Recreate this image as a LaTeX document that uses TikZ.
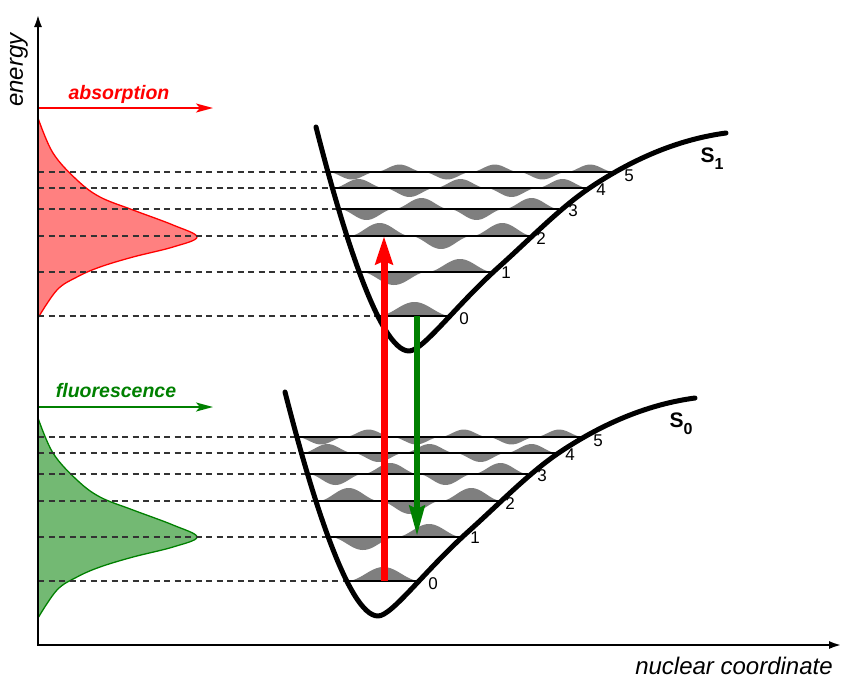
\documentclass[tikz,border=0pt]{standalone}
\usepackage{fontspec}
\setmainfont{Liberation Sans}
\usepackage{tikz}
\usetikzlibrary{arrows.meta}
\definecolor{absRed}{HTML}{FF0000}
\definecolor{absFill}{HTML}{FF8080}
\definecolor{fluoGreen}{HTML}{008000}
\definecolor{fluoFill}{HTML}{73B973}
\definecolor{waveGray}{HTML}{7F7F7F}
\definecolor{dashGray}{HTML}{333333}

\tikzset{
  well/.style={line width=5pt, line join=round, line cap=round},
  vlevel/.style={line width=2.2pt},
  levdash/.style={dashGray, line width=1.3pt, dash pattern=on 6pt off 4.5pt},
  axisline/.style={line width=2.6pt, line join=miter,
    {Latex[length=13pt,width=8pt]}-{Latex[length=13pt,width=8pt]}},
  bandarrow/.style={line width=2pt, -{Stealth[length=17pt,width=9pt,inset=4pt]}},
  translbl/.style={font=\fontsize{19.5}{22}\selectfont\bfseries\itshape},
  axislbl/.style={font=\fontsize{24}{28}\selectfont\itshape},
  vlbl/.style={font=\fontsize{17}{20}\selectfont},
  statelbl/.style={font=\fontsize{21}{24}\selectfont\bfseries}
}

\begin{document}
\begin{tikzpicture}[x=1pt, y=-1pt]
  \useasboundingbox (0,0) rectangle (842,678);
  \coordinate (origin) at (38,645);
  \coordinate (ytip) at (38,14);
  \coordinate (xtip) at (842,645);

  % band shapes
  \foreach \col/\fil/\dy in {absRed/absFill/-300, fluoGreen/fluoFill/0} {
    \begin{scope}[shift={(0,\dy)}]
      \filldraw[fill=\fil, draw=\col, line width=1.3pt] plot[smooth, tension=0.6]
        coordinates {(38,418) (53,453) (77,480) (100,497) (133,510) (173,525)
          (197,537) (173,547) (133,557) (100,567) (77,577) (57,590) (38,618)} -- cycle;
    \end{scope}
  }

  % the two wells, S0 and S1
  \foreach \s/\dx/\dy in {0/0/0, 1/31/-265} {
    \begin{scope}[shift={(\dx,\dy)}]
      \foreach \n/\xl/\xr/\y/\amp/\lx/\ly in {0/347/420/581/14/433/584,
          1/330/462/537/13/475/538, 2/318/502/501/13/510/504,
          3/308/528/474/11/542/476, 4/302/557/453/9/570/455,
          5/297/583/437/7.5/598/441} {
        \pgfmathsetmacro{\k}{(\n+1)*180}
        \coordinate (L\s-\n) at (\xl,\y);
        \coordinate (R\s-\n) at (\xr,\y);
        \draw[levdash] (origin |- L\s-\n) -- (L\s-\n);
        \fill[waveGray] plot[domain=0:1, samples=90, smooth]
          ({\xl+(\xr-\xl)*\x}, {\y-\amp*sin(\k*(1-\x))*abs(sin(\k*(1-\x)))}) -- cycle;
        \draw[vlevel] (L\s-\n) -- (R\s-\n);
        \node[vlbl] (v\s-\n) at (\lx,\ly) {\n};
      }
      \draw[well] (285,392) .. controls (310,490) and (348,616) .. (378,616)
        .. controls (392,616) and (425,570) .. (470,530)
        .. controls (500,503) and (530,472) .. (560,452)
        .. controls (605,422) and (650,404) .. (695,398);
      \node[statelbl] (S\s) at (681,424) {S\raisebox{-7pt}{\fontsize{16}{18}\selectfont\bfseries\s}};
    \end{scope}
  }

  % transitions
  \coordinate (absfrom) at (384,581);
  \coordinate (absto) at (384,236);
  \coordinate (emfrom) at (417,316);
  \coordinate (emto) at (417,536);
  \draw[absRed, line width=7pt, -{Stealth[length=28pt,width=17pt,inset=3pt]}] (absfrom) -- (absto);
  \draw[fluoGreen, line width=6pt, -{Stealth[length=30pt,width=15pt,inset=3pt]}] (emfrom) -- (emto);

  % spectra arrows
  \coordinate (absO) at (38,108);
  \coordinate (absE) at (213,108);
  \coordinate (fluO) at (38,407);
  \coordinate (fluE) at (213,407);
  \draw[bandarrow, absRed] (absO) -- (absE);
  \draw[bandarrow, fluoGreen] (fluO) -- (fluE);
  \node[translbl, absRed] (abslbl) at (119,94) {absorption};
  \node[translbl, fluoGreen] (flulbl) at (116,391) {fluorescence};

  % axes
  \draw[axisline] (ytip) -- (origin) -- (xtip);
  \node[axislbl, rotate=90] (energy) at (19,70) {energy};
  \node[axislbl] (nuclear) at (734,666) {nuclear coordinate};
\end{tikzpicture}
\end{document}
